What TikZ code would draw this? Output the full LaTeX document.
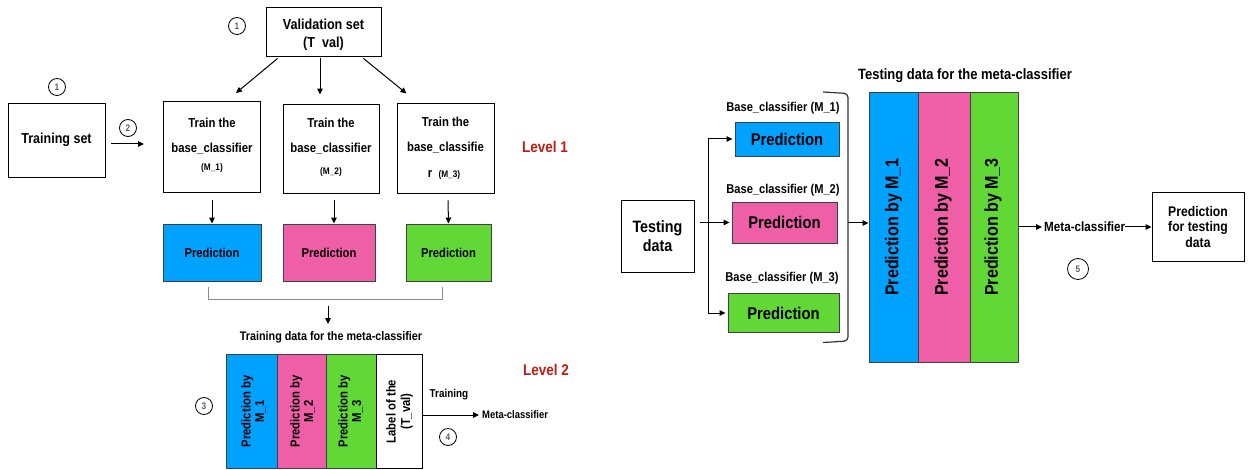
\documentclass[tikz,border=0pt]{standalone}
\usepackage{fontspec}
\setmainfont{Liberation Sans}[FakeStretch=0.87]
\usetikzlibrary{arrows.meta,calc}
\definecolor{kblue}{RGB}{0,162,255}
\definecolor{kpink}{RGB}{239,95,167}
\definecolor{kgreen}{RGB}{97,216,54}
\definecolor{kred}{RGB}{192,28,20}
\definecolor{numgray}{RGB}{95,95,95}
\newcommand{\fsz}[1]{\fontsize{#1}{#1}\selectfont}
\begin{document}
\begin{tikzpicture}[x=1pt,y=-1pt,
  box/.style={draw=black,line width=0.95pt,fill=white,inner sep=0pt},
  cbox/.style={draw=black!75,line width=0.9pt,inner sep=0pt},
  num/.style={circle,draw=black,line width=0.8pt,minimum size=17pt,inner sep=0pt,text=numgray,font=\bfseries\fsz{9.5}},
  arr/.style={-{Triangle[length=6pt,width=5.5pt]},line width=1pt},
  txt/.style={inner sep=0pt,align=center},
  lvl/.style={inner sep=0pt,text=kred,font=\bfseries\fsz{15.5}},
  lbrk/.style={draw=black!45,line width=0.9pt},
  rbrk/.style={draw=black!80,line width=1.2pt,rounded corners=4pt}]
\useasboundingbox (0,0) rectangle (1250,470);
\fill[white] (0,0) rectangle (1250,470);

% ---------------- left part ----------------
\node[num] (n1a) at (237,26) {1};
\node[box,minimum width=115pt,minimum height=49pt] (val) at (323.5,31.5) {};
\node[txt,font=\bfseries\fsz{14.5}] (valt) at (323.5,35) {Validation set\\[4pt](T\ \ val)};

\node[num] (n1b) at (57,87) {1};
\node[box,minimum width=97pt,minimum height=74pt,font=\bfseries\fsz{14.4}] (train) at (56.5,140) {Training set};
\node[num] (n2) at (128,128) {2};

\node[box,minimum width=97pt,minimum height=91pt] (b1) at (212,147) {};
\node[box,minimum width=96pt,minimum height=89pt] (b2) at (331,148.5) {};
\node[box,minimum width=97pt,minimum height=90pt] (b3) at (445.5,148) {};

\node[txt,anchor=base,font=\bfseries\fsz{13}] (b1a) at (212,127.8) {Train the};
\node[txt,anchor=base,font=\bfseries\fsz{13}] (b1b) at (212,152.2) {base\_classifier};
\node[txt,anchor=base,font=\bfseries\fsz{9.5}] (b1c) at (212,170.3) {(M\_1)};
\node[txt,anchor=base,font=\bfseries\fsz{13}] (b2a) at (331,127.8) {Train the};
\node[txt,anchor=base,font=\bfseries\fsz{13}] (b2b) at (331,152.2) {base\_classifier};
\node[txt,anchor=base,font=\bfseries\fsz{9.5}] (b2c) at (331,174.5) {(M\_2)};
\node[txt,anchor=base,font=\bfseries\fsz{13}] (b3a) at (445.5,126.2) {Train the};
\node[txt,anchor=base,font=\bfseries\fsz{13}] (b3b) at (445.5,151.2) {base\_classifie};
\node[txt,anchor=base,font=\bfseries\fsz{13}] (b3c) at (444,177.5) {r\ \ {\fsz{9.5}(M\_3)}};

\node[lvl] (lv1) at (545,147) {Level 1};

\draw[arr] ([shift={(12,2)}]val.south west) -- ([shift={(24,-8)}]b1.north);
\draw[arr] ([shift={(-3.5,2)}]val.south) -- ([shift={(-11,-9)}]b2.north);
\draw[arr] ([shift={(-18,2)}]val.south east) -- ([shift={(10,-9)}]b3.north west);
\draw[arr] ([shift={(6,4)}]train.east) -- ([shift={(-19,-3)}]b1.west);

\node[cbox,fill=kblue,minimum width=98pt,minimum height=57pt,font=\bfseries\fsz{12.9}] (p1) at (212,252.5) {Prediction};
\node[cbox,fill=kpink,minimum width=92pt,minimum height=57pt,font=\bfseries\fsz{12.9}] (p2) at (329,252.5) {Prediction};
\node[cbox,fill=kgreen,minimum width=85pt,minimum height=57pt,font=\bfseries\fsz{12.9}] (p3) at (448.5,252.5) {Prediction};

\draw[arr] ([shift={(0,7)}]b1.south) -- (p1.north);
\draw[arr] ([shift={(3,7)}]b2.south) -- ([shift={(5,0)}]p2.north);
\draw[arr] ([shift={(2.5,7)}]b3.south) -- (p3.north);

\draw[lbrk] ([shift={(-4,6)}]p1.south) -- ++(0,12) -| ([shift={(-6.5,6)}]p3.south);
\coordinate (bm) at (328,306);
\coordinate (bm2) at (328,324);
\draw[arr] (bm) -- (bm2);
\node[txt,font=\bfseries\fsz{12.4}] (tdm) at (331,337) {Training data for the meta-classifier};

\node[cbox,fill=kblue,minimum width=51pt,minimum height=114pt] (l1) at (251.5,411) {};
\node[cbox,fill=kpink,minimum width=49pt,minimum height=114pt] (l2) at (301.5,411) {};
\node[cbox,fill=kgreen,minimum width=50pt,minimum height=114pt] (l3) at (351,411) {};
\node[box,line width=0.9pt,minimum width=46pt,minimum height=114pt] (l4) at (399,411) {};
\node[txt,rotate=90,font=\bfseries\fontsize{13}{13.5}\selectfont] (l1t) at (253.5,411.5) {Prediction by\\M\_1};
\node[txt,rotate=90,font=\bfseries\fontsize{13}{13.5}\selectfont] (l2t) at (302.5,411.5) {Prediction by\\M\_2};
\node[txt,rotate=90,font=\bfseries\fontsize{13}{13.5}\selectfont] (l3t) at (350.5,411.5) {Prediction by\\M\_3};
\node[txt,rotate=90,font=\bfseries\fontsize{13}{14.5}\selectfont] (l4t) at (399.5,411.5) {Label of the\\(T\_val)};

\node[lvl] (lv2) at (546,370) {Level 2};
\node[num] (n3) at (204,406) {3};
\node[num] (n4) at (448,437) {4};
\node[txt,font=\bfseries\fsz{11.4}] (trl) at (449,395) {Training};
\node[txt,font=\bfseries\fsz{10.9},anchor=west] (mc1) at (482,415) {Meta-classifier};
\draw[arr] (l4.east |- mc1.west) -- ([shift={(-3,0)}]mc1.west);

% ---------------- right part ----------------
\node[box,minimum width=73pt,minimum height=72pt,align=center,font=\bfseries\fontsize{16.5}{19}\selectfont] (test) at (657.5,236) {Testing\\data};

\node[cbox,fill=kblue,minimum width=104pt,minimum height=34pt,font=\bfseries\fsz{17}] (q1) at (787,139) {Prediction};
\node[cbox,fill=kpink,minimum width=105pt,minimum height=41pt,font=\bfseries\fsz{17}] (q2) at (784.5,222.5) {Prediction};
\node[cbox,fill=kgreen,minimum width=111pt,minimum height=39pt,font=\bfseries\fsz{17}] (q3) at (783.5,313) {Prediction};

\node[txt,font=\bfseries\fsz{12.8}] (lb1) at (783,108) {Base\_classifier (M\_1)};
\node[txt,font=\bfseries\fsz{12.8}] (lb2) at (783,190) {Base\_classifier (M\_2)};
\node[txt,font=\bfseries\fsz{12.8}] (lb3) at (782,278) {Base\_classifier (M\_3)};

\coordinate (vx) at (708,222.5);
\draw[line width=1pt] ($(test.east |- q2.west)+(6,0)$) -- (vx);
\draw[arr] (vx) -- ([shift={(-2,0)}]q2.west);
\draw[arr] (vx) |- ([shift={(-2,0)}]q1.west);
\draw[arr] (vx) |- ([shift={(-2,0)}]q3.west);

\draw[rbrk] (823,92) -- (848,93.5) -- (848,341) -- (823,342.5);

\node[cbox,fill=kblue,minimum width=49pt,minimum height=270pt] (r1) at (893.5,227) {};
\node[cbox,fill=kpink,minimum width=52pt,minimum height=270pt] (r2) at (944,227) {};
\node[cbox,fill=kgreen,minimum width=48pt,minimum height=270pt] (r3) at (994,227) {};
\node[txt,rotate=90,font=\bfseries\fsz{18.5}] (r1t) at (893.5,227) {Prediction by M\_1};
\node[txt,rotate=90,font=\bfseries\fsz{18.5}] (r2t) at (943,227) {Prediction by M\_2};
\node[txt,rotate=90,font=\bfseries\fsz{18.5}] (r3t) at (993,227) {Prediction by M\_3};

\coordinate (bx) at (848,223);
\draw[arr] (bx) -- (bx -| r1.west);

\node[txt,font=\bfseries\fsz{14.9}] (tdt) at (965,76) {Testing data for the meta-classifier};

\node[txt,font=\bfseries\fsz{13.4},anchor=west] (mc2) at (1044,227) {Meta-classifier};
\draw[arr] (r3.east |- mc2.west) -- ([shift={(-2,0)}]mc2.west);
\node[box,minimum width=92pt,minimum height=69pt,align=center,font=\bfseries\fontsize{14}{15.5}\selectfont] (pt) at (1198,226.5) {Prediction\\for testing\\data};
\draw[arr] (mc2.east) -- (pt.west |- mc2.east);
\node[num,minimum size=21pt] (n5) at (1078,269) {5};
\end{tikzpicture}
\end{document}
